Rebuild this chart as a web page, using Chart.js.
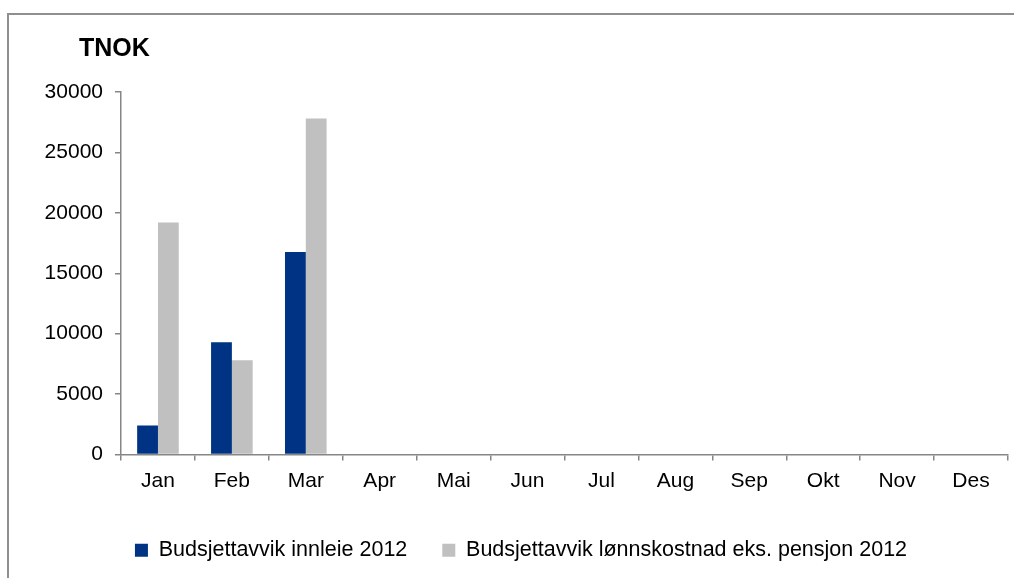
<!DOCTYPE html>
<html>
<head>
<meta charset="utf-8">
<script src="https://cdn.jsdelivr.net/npm/chart.js@4/dist/chart.umd.min.js"></script>
<style>
html,body{margin:0;padding:0;background:#fff;overflow:hidden}
#ramme{position:absolute;left:7px;top:13px;width:1300px;height:900px;border:2px solid #8f8f8f}
#boks{position:absolute;left:0;top:0;width:1014px;height:578px}
</style>
</head>
<body>
<div id="ramme"></div>
<div id="boks"><canvas id="grafikk"></canvas></div>
<script>

let maaneder=['Jan','Feb','Mar','Apr','Mai','Jun','Jul','Aug','Sep','Okt','Nov','Des']
let innleie=[2400,9300,16750,null,null,null,null,null,null,null,null,null]
let lonn=[19200,7800,27800,null,null,null,null,null,null,null,null,null]
let navnInnleie='Budsjettavvik innleie 2012'
let navnLonn='Budsjettavvik lønnskostnad eks. pensjon 2012'
let enhet='TNOK'

let skrift='"Liberation Sans", Arial, sans-serif'
let akseFarge='#868686'

// tittel oppe til venstre (TNOK)
let tittelPlugin={
id:'tnok',
afterDraw(chart){
let ctx=chart.ctx
ctx.save()
ctx.font='bold 25px '+skrift
ctx.fillStyle='#000'
ctx.textBaseline='alphabetic'
ctx.textAlign='left'
ctx.fillText(enhet,79,56)
ctx.restore()
}
}

new Chart(document.getElementById('grafikk'),{
type:'bar',
data:{
labels:maaneder,
datasets:[{
label:navnInnleie,
data:innleie,
backgroundColor:'#003383',
borderWidth:0,
categoryPercentage:0.563,
barPercentage:1
},{
label:navnLonn,
data:lonn,
backgroundColor:'#c0c0c0',
borderWidth:0,
categoryPercentage:0.563,
barPercentage:1
}]
},
options:{
responsive:true,
maintainAspectRatio:false,
animation:false,
layout:{
padding:{left:34,top:92,right:6,bottom:7}
},
plugins:{
tooltip:{enabled:false},
title:{display:false},
legend:{
position:'bottom',
labels:{
boxWidth:13,
boxHeight:13,
padding:35,
color:'#000',
font:{family:skrift,size:21.5}
}
}
},
scales:{
x:{
grid:{
display:true,
drawOnChartArea:false,
drawTicks:true,
tickLength:6,
color:akseFarge,
lineWidth:1.5
},
border:{display:true,color:akseFarge,width:1.5},
ticks:{
color:'#000',
padding:8,
maxRotation:0,
font:{family:skrift,size:21}
},
afterFit(s){s.height=50}
},
y:{
min:0,
max:30000,
grid:{
display:true,
drawOnChartArea:false,
drawTicks:true,
tickLength:6,
color:akseFarge,
lineWidth:1.5
},
border:{display:true,color:akseFarge,width:1.5},
ticks:{
stepSize:5000,
color:'#000',
padding:12,
font:{family:skrift,size:21},
callback:v=>String(v)
},
afterFit(s){s.width=87}
}
}
},
plugins:[tittelPlugin]
})

</script>
</body>
</html>
